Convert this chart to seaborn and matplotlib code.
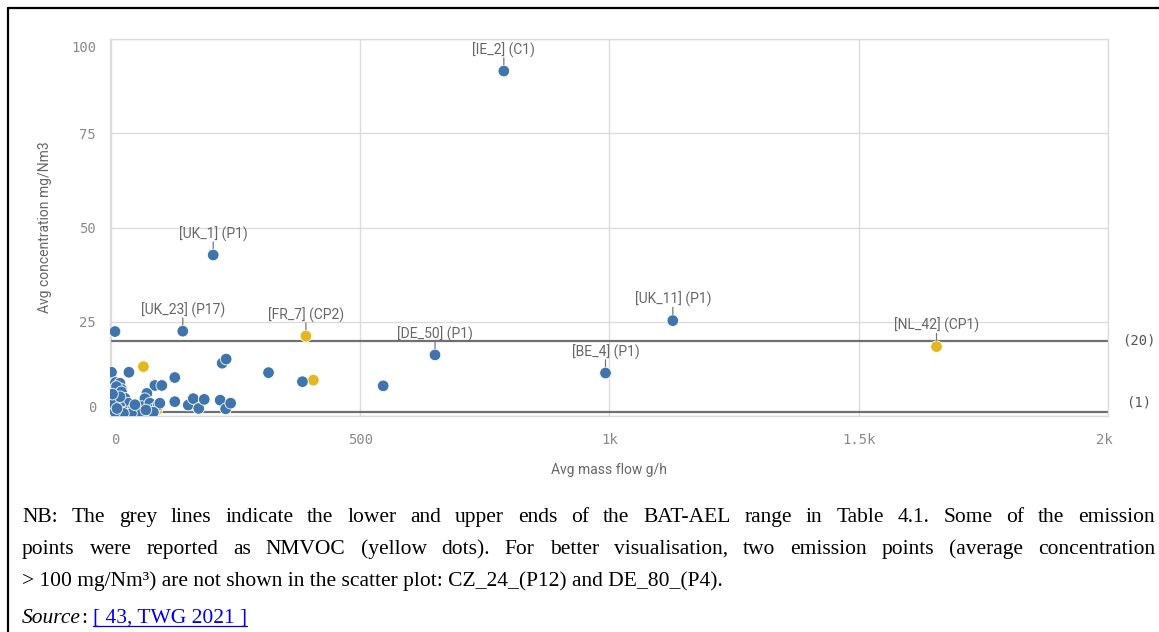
import matplotlib
matplotlib.use("Agg")
import matplotlib.pyplot as plt
import matplotlib.transforms as mtransforms
from matplotlib.lines import Line2D
import seaborn as sns
import pandas as pd

# ---- data -------------------------------------------------------------
# Labelled emission points
label_names = ["[IE_2] (C1)", "[UK_1] (P1)", "[UK_23] (P17)", "[FR_7] (CP2)",
               "[DE_50] (P1)", "[BE_4] (P1)", "[UK_11] (P1)", "[NL_42] (CP1)"]
label_flow = [788, 205, 144, 391, 650, 992, 1127, 1656]
label_conc = [91.5, 42.7, 22.5, 21.2, 16.2, 11.4, 25.3, 18.4]
label_type = ["TVOC", "TVOC", "TVOC", "NMVOC", "TVOC", "TVOC", "TVOC", "NMVOC"]

# Other emission points reported as TVOC
tvoc_flow = [8, 1, 36, 128, 223, 231, 316, 384, 546, 88, 102, 9, 18, 21, 72, 68,
             128, 155, 165, 176, 187, 219, 230, 240, 11, 21, 28, 15, 35, 18, 31,
             45, 52, 61, 78, 88, 95, 98, 85, 58, 41, 25, 8, 5, 18, 3, 12, 48, 70]
tvoc_conc = [22.4, 11.6, 11.6, 10.2, 14.0, 15.1, 11.5, 9.1, 8.0, 8.1, 8.1, 8.9,
             8.7, 7.1, 6.0, 4.6, 3.8, 2.9, 4.6, 2.0, 4.4, 4.2, 1.9, 3.4, 7.8, 6.4,
             4.7, 4.2, 3.4, 2.5, 1.1, 2.0, 0.7, 2.5, 3.4, 2.0, 2.9, 3.4, 1.0, 1.1,
             0.7, 0.7, 1.1, 3.4, 5.1, 5.8, 2.0, 3.0, 1.6]

# Other emission points reported as NMVOC
nmvoc_flow = [65, 406, 1, 0, 2, 92]
nmvoc_conc = [13.1, 9.5, 6.0, 3.5, 0.5, 1.6]

# BAT-AEL range ends
bat_ael = [20, 1]

x_ticks = [0, 500, 1000, 1500, 2000]
x_tick_labels = ["0", "500", "1k", "1.5k", "2k"]
y_ticks = [0, 25, 50, 75, 100]

df = pd.concat([
    pd.DataFrame({"flow": nmvoc_flow, "conc": nmvoc_conc, "type": "NMVOC"}),
    pd.DataFrame({"flow": [f for f, t in zip(label_flow, label_type) if t == "NMVOC"],
                  "conc": [c for c, t in zip(label_conc, label_type) if t == "NMVOC"],
                  "type": "NMVOC"}),
    pd.DataFrame({"flow": tvoc_flow, "conc": tvoc_conc, "type": "TVOC"}),
    pd.DataFrame({"flow": [f for f, t in zip(label_flow, label_type) if t == "TVOC"],
                  "conc": [c for c, t in zip(label_conc, label_type) if t == "TVOC"],
                  "type": "TVOC"}),
], ignore_index=True)

# ---- figure -----------------------------------------------------------
W, H = 1159, 632
sns.set_style("white")
plt.rcParams["font.family"] = ["Roboto", "DejaVu Sans"]

fig = plt.figure(figsize=(W / 100, H / 100), dpi=100)
ax = fig.add_axes([110 / W, 1 - 416 / H, (1108 - 110) / W, (416 - 39) / H])

BLUE = "#3f74ad"
YELLOW = "#e4b81c"
GRID = "#dcdcdc"
TICK_C = "#8a8a8a"
TITLE_C = "#666666"

sns.scatterplot(data=df, x="flow", y="conc", hue="type",
                palette={"TVOC": BLUE, "NMVOC": YELLOW},
                s=70, edgecolor="white", linewidth=0.6, alpha=1,
                legend=False, ax=ax, zorder=3)

ax.set_xlim(-2, 2000)
ax.set_ylim(0, 100)
ax.set_xticks(x_ticks)
ax.set_xticklabels(x_tick_labels)
ax.set_yticks(y_ticks)
ax.grid(True, color=GRID, linewidth=1)
ax.set_axisbelow(True)
for sp in ax.spines.values():
    sp.set_color(GRID)
    sp.set_linewidth(1)

ax.tick_params(axis="both", length=0, colors=TICK_C, labelsize=10)
ax.tick_params(axis="x", pad=12)
ax.tick_params(axis="y", pad=10)
for lab in ax.get_xticklabels() + ax.get_yticklabels():
    lab.set_family(["DejaVu Sans Mono"])

# keep edge tick labels inside the plot extent
def shift(lab, dx, dy):
    lab.set_transform(lab.get_transform() +
                      mtransforms.ScaledTranslation(dx / 100, dy / 100, fig.dpi_scale_trans))

ylabs = ax.get_yticklabels()
shift(ylabs[0], 0, 9)
shift(ylabs[-1], 0, -7)
xlabs = ax.get_xticklabels()
shift(xlabs[0], 4, 0)
shift(xlabs[-1], -4, 0)

ax.set_xlabel("Avg mass flow g/h", color=TITLE_C, fontsize=10)
ax.set_ylabel("Avg concentration mg/Nm3", color=TITLE_C, fontsize=10)
ax.xaxis.label.set_va("center")
ax.yaxis.label.set_va("center")
ax.xaxis.set_label_coords(0.5, -0.143)
ax.yaxis.set_label_coords(-0.065, 0.5)

# BAT-AEL reference lines
for v in bat_ael:
    ax.axhline(v, color="#707070", linewidth=1.6, zorder=2)
ax.annotate("(20)", xy=(1.031, bat_ael[0]), xycoords=("axes fraction", "data"),
            ha="center", va="center", fontsize=10, color="#555555",
            family=["DejaVu Sans Mono"], annotation_clip=False)
ax.annotate("(1)", xy=(1.031, bat_ael[1]), xycoords=("axes fraction", "data"),
            xytext=(0, 7), textcoords="offset points",
            ha="center", va="center", fontsize=10, color="#555555",
            family=["DejaVu Sans Mono"], annotation_clip=False)

# point labels with a short leader tick
for name, fx, cy in zip(label_names, label_flow, label_conc):
    ax.annotate(name, xy=(fx, cy), xytext=(0, 9.5), textcoords="offset points",
                ha="center", va="bottom", fontsize=10, color="#666666", zorder=5)
    ax.annotate("", xy=(fx, cy), xytext=(0, 9.5), textcoords="offset points",
                arrowprops=dict(arrowstyle="-", color="#777777", lw=0.9,
                                shrinkA=0, shrinkB=4.5), zorder=5)

# ---- frame ------------------------------------------------------------
fig.add_artist(Line2D([8 / W, 8 / W], [0, 1 - 8 / H], color="black", linewidth=1.6))
fig.add_artist(Line2D([8 / W, 1], [1 - 8 / H, 1 - 8 / H], color="black", linewidth=1.6))

# ---- caption ----------------------------------------------------------
renderer = fig.canvas.get_renderer()
serif = ["Liberation Serif", "DejaVu Serif"]
CAP_SIZE = 15.5


def put(x, y, s, **kw):
    kw.setdefault("family", serif)
    kw.setdefault("fontsize", CAP_SIZE)
    kw.setdefault("color", "black")
    return fig.text(x / W, 1 - y / H, s, va="baseline", ha="left", **kw)


def justified(line, y, x0=22, x1=1155):
    words = line.split(" ")
    texts = [put(0, y, w) for w in words]
    widths = [t.get_window_extent(renderer).width for t in texts]
    gap = (x1 - x0 - sum(widths)) / (len(words) - 1)
    x = x0
    for t, w in zip(texts, widths):
        t.set_x(x / W)
        x += w + gap


justified("NB: The grey lines indicate the lower and upper ends of the BAT-AEL "
          "range in Table 4.1. Some of the emission", 522)
justified("points were reported as NMVOC (yellow dots). For better visualisation, "
          "two emission points (average concentration", 554)
put(22, 586, "> 100 mg/Nm³) are not shown in the scatter plot: CZ_24_(P12) and DE_80_(P4).")

t_src = put(22, 623, "Source", style="italic")
x = 22 + t_src.get_window_extent(renderer).width
t_col = put(x, 623, ":")
x += t_col.get_window_extent(renderer).width + 6
t_link = put(x, 623, "[ 43, TWG 2021 ]", color="#0000ee")
lw_ = t_link.get_window_extent(renderer).width
fig.add_artist(Line2D([x / W, (x + lw_) / W], [1 - 626 / H, 1 - 626 / H],
                      color="#0000ee", linewidth=0.9))

fig.savefig("out.png", dpi=100)
